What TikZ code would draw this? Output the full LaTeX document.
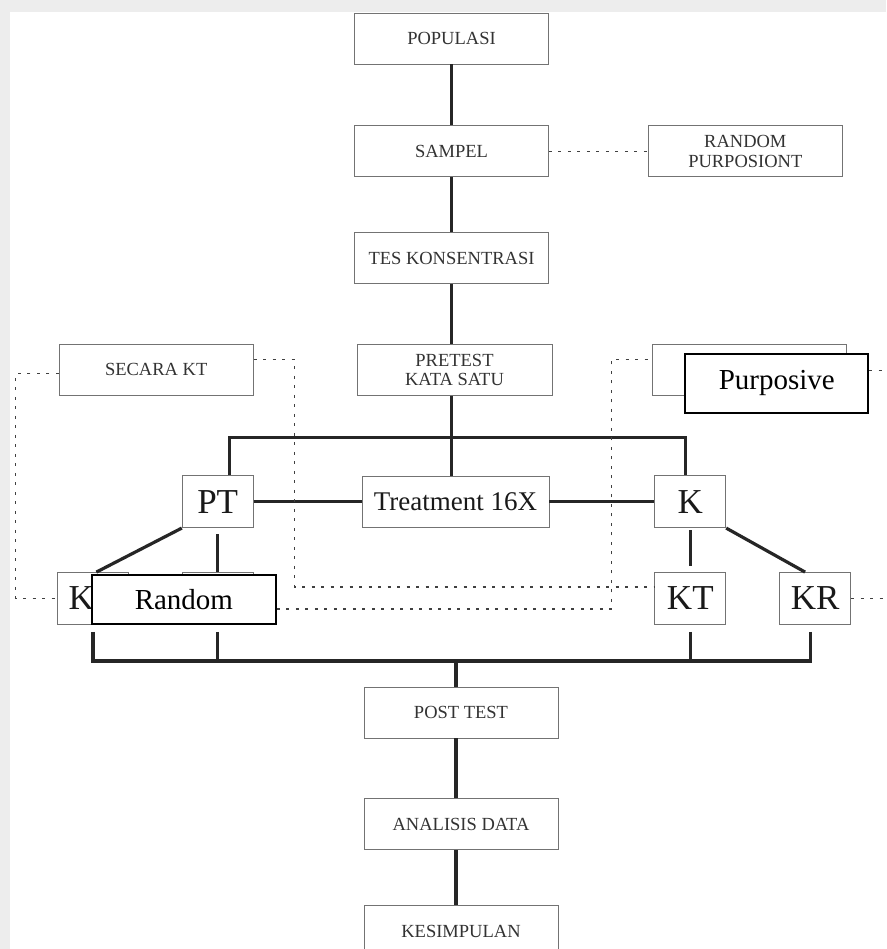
\documentclass[tikz,border=0pt]{standalone}
\usepackage{fontspec}
\setmainfont{Liberation Serif}
\usetikzlibrary{positioning}

\begin{document}
\begin{tikzpicture}[x=1pt, y=1pt,
smallnode/.style={rectangle, draw=black!55, line width=0.8pt, fill=white, inner sep=0pt, minimum width=194pt, minimum height=51pt, text=black!80, align=center, font=\fontsize{18.5}{19.5}\selectfont},
bignode/.style={rectangle, draw=black!55, line width=0.8pt, fill=white, inner sep=0pt, minimum width=71pt, minimum height=52pt, text=black!90, font=\fontsize{35}{38}\selectfont},
covernode/.style={rectangle, draw=black, line width=1.8pt, fill=white, inner sep=0pt, minimum height=49pt, font=\fontsize{29}{31}\selectfont},
link/.style={line width=3.2pt, draw=black!85},
dotline/.style={draw=black!75, line width=1.2pt, dash pattern=on 3pt off 6.5pt},
]
%Frame
\fill[black!7] (0,0) rectangle (886,949);
\fill[white] (10,0) rectangle (886,937);
\useasboundingbox (0,0) rectangle (886,949);
\clip (0,0) rectangle (886,949);

%Nodes
\node[smallnode] (pop) at (451.5,910.5) {POPULASI};
\node[smallnode] (sam) [below=61pt of pop] {SAMPEL};
\node[smallnode] (tes) [below=55pt of sam] {TES KONSENTRASI};
\node[smallnode, minimum width=195pt] (pre) [below=60pt of tes, xshift=3pt] {PRETEST\\KATA SATU};
\node[smallnode, minimum width=187pt, text=black!90, font=\fontsize{27}{30}\selectfont] (treat) [below=80pt of pre, xshift=1pt] {Treatment 16X};
\node[bignode] (pt) [left=108pt of treat] {PT};
\node[bignode] (k)  [right=105pt of treat] {K};
\node[bignode] (kt) [below=44pt of k] {KT};
\node[bignode] (kr) [right=53pt of kt] {KR};
\node[bignode] (kb) [below=44pt of pt] {};
\node[bignode] (ka) [left=53pt of kb] {K\phantom{R}};
\node[smallnode] (sec) [left=103pt of pre] {SECARA KT};
\node[smallnode] (rp)  [right=99pt of sam] {RANDOM\\PURPOSIONT};
\node[smallnode] (ph)  [right=100pt of pre] {};
\node[smallnode] (post) [below=159pt of treat, xshift=5.5pt] {POST TEST};
\node[smallnode] (ana)  [below=60pt of post] {ANALISIS DATA};
\node[smallnode] (kes)  [below=55pt of ana] {KESIMPULAN};
\node[covernode, minimum width=184pt, anchor=south west] (rand) at ([xshift=34pt]ka.south west) {Random};
\node[covernode, minimum width=183pt, minimum height=59pt, anchor=north west] (purp) at ([xshift=32pt,yshift=-9pt]ph.north west) {Purposive};
\coordinate (bus) at (0,288);

%Lines
\draw[link] (pop) -- (sam);
\draw[link] (sam) -- (tes);
\draw[link] (tes.south) -- (tes.south |- pre.north);
\draw[link] ([xshift=-3pt]pre.south) -- ([xshift=-3pt]pre.south |- treat.north);
\draw[link] ([xshift=11.5pt]pt.north) -- ++(0,38pt) -| ([xshift=-4.5pt]k.north);
\draw[link] (pt) -- (treat);
\draw[link] (treat) -- (k);
\draw[link] (pt.south west) -- ([xshift=3.5pt]ka.north);
\draw[link, shorten <=6pt] (pt.south) -- (kb.north);
\draw[link, shorten <=2pt, shorten >=6pt] (k.south) -- (kt.north);
\draw[link] (k.south east) -- ([xshift=-10pt]kr.north);

\draw[link, shorten <=7pt] (ka.south) -- (ka.south |- bus);
\draw[link, shorten <=7pt] (kb.south) -- (kb.south |- bus);
\draw[link, shorten <=7pt] (kt.south) -- (kt.south |- bus);
\draw[link, shorten <=7pt] ([xshift=-5pt]kr.south) -- ([xshift=-5pt]kr.south |- bus);
\draw[link] ([xshift=-1.6pt]ka.south |- bus) -- ([xshift=-3.4pt]kr.south |- bus);
\draw[link] ([xshift=-5pt]post.north |- bus) -- ([xshift=-5pt]post.north);
\draw[link] ([xshift=-5pt]post.south) -- ([xshift=-5pt]ana.north);
\draw[link] ([xshift=-5pt]ana.south) -- ([xshift=-5pt]kes.north);

\draw[dotline] (sam) -- (rp);
\draw[dotline] ([yshift=-3.5pt]sec.west) -- ++(-43pt,0) |- (ka.west);
\draw[dotline] ([yshift=10pt]sec.east) -- ++(41pt,0) |- ([yshift=11.5pt]kt.west);
\draw[dotline] ([yshift=-9.5pt]rand.east) -- ++(335pt,0) |- ([yshift=10.5pt]ph.west);
\draw[dotline] ([yshift=12.5pt]purp.east) -- ++(20pt,0);
\draw[dotline] (kr.east) -- ++(40pt,0);
\end{tikzpicture}
\end{document}
